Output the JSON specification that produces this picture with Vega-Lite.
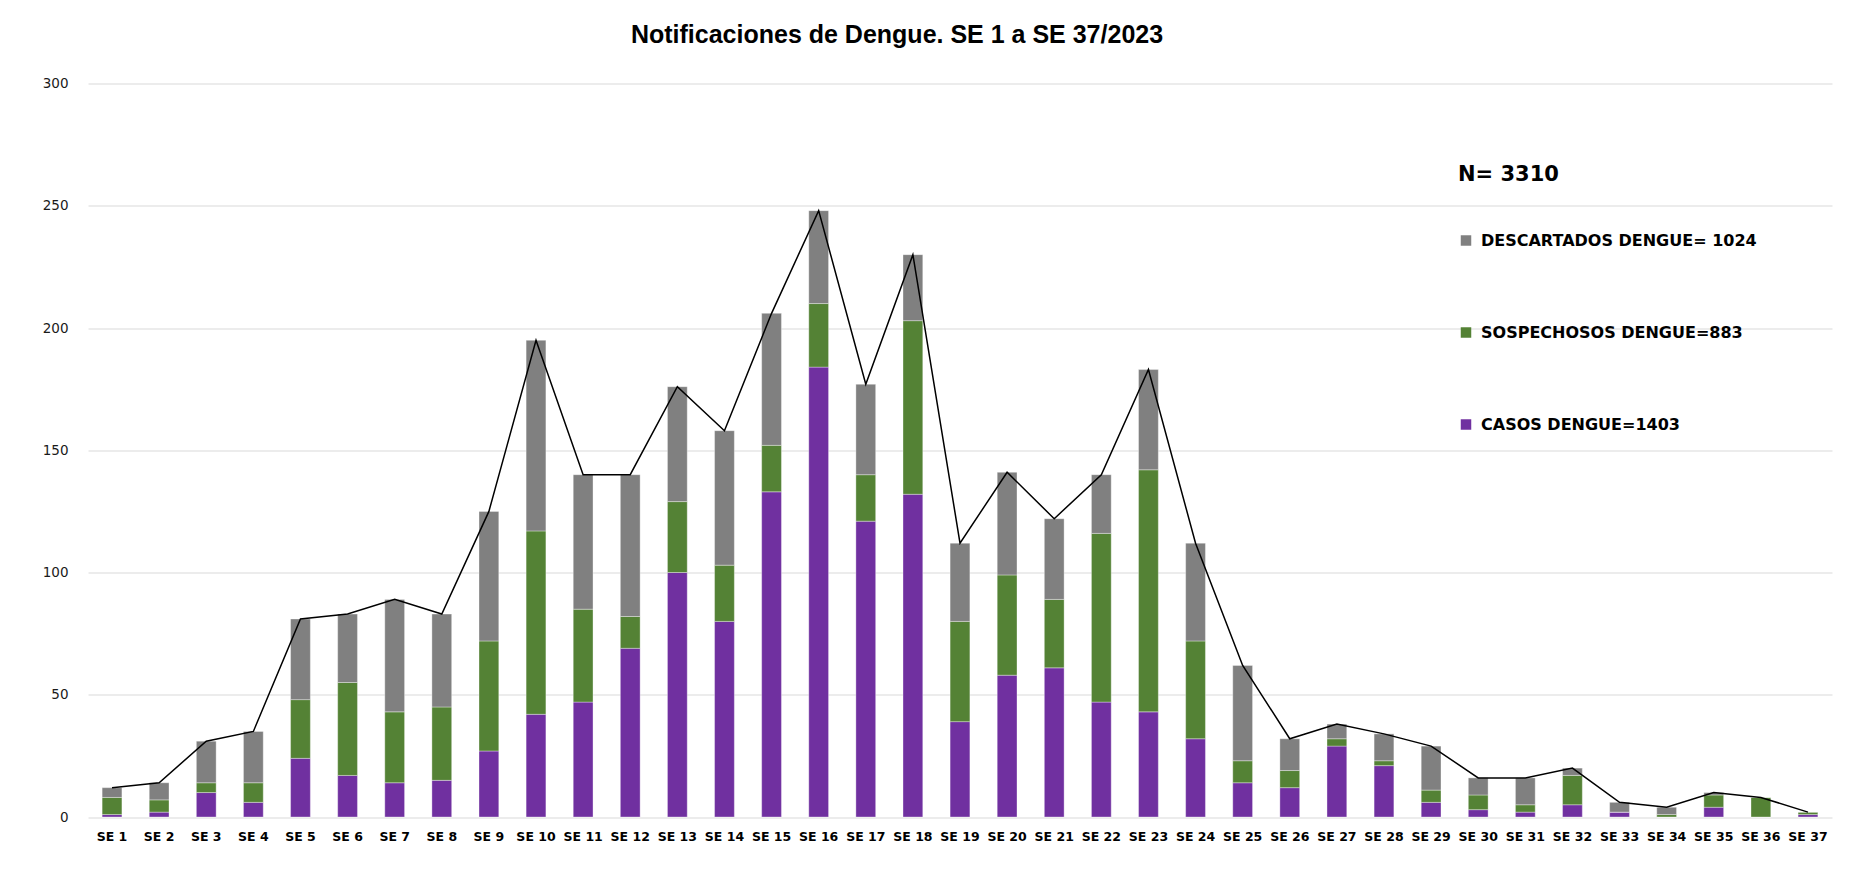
{
  "$schema": "https://vega.github.io/schema/vega-lite/v6.json",
  "width": 1744,
  "height": 733.5,
  "autosize": {"type": "none"},
  "padding": {"left": 88, "top": 83.5, "right": 36, "bottom": 79},
  "background": "white",
  "config": {"view": {"stroke": null}},
  "title": {
    "text": "Notificaciones de Dengue. SE 1 a SE 37/2023",
    "font": "Liberation Sans",
    "fontSize": 25,
    "fontWeight": "bold",
    "color": "black",
    "anchor": "middle",
    "frame": "group",
    "dx": -63,
    "offset": 29
  },
  "data": {
    "values": [
      {"se": "SE 1", "sem": 1, "casos": 1, "sosp": 7, "desc": 4},
      {"se": "SE 2", "sem": 2, "casos": 2, "sosp": 5, "desc": 7},
      {"se": "SE 3", "sem": 3, "casos": 10, "sosp": 4, "desc": 17},
      {"se": "SE 4", "sem": 4, "casos": 6, "sosp": 8, "desc": 21},
      {"se": "SE 5", "sem": 5, "casos": 24, "sosp": 24, "desc": 33},
      {"se": "SE 6", "sem": 6, "casos": 17, "sosp": 38, "desc": 28},
      {"se": "SE 7", "sem": 7, "casos": 14, "sosp": 29, "desc": 46},
      {"se": "SE 8", "sem": 8, "casos": 15, "sosp": 30, "desc": 38},
      {"se": "SE 9", "sem": 9, "casos": 27, "sosp": 45, "desc": 53},
      {"se": "SE 10", "sem": 10, "casos": 42, "sosp": 75, "desc": 78},
      {"se": "SE 11", "sem": 11, "casos": 47, "sosp": 38, "desc": 55},
      {"se": "SE 12", "sem": 12, "casos": 69, "sosp": 13, "desc": 58},
      {"se": "SE 13", "sem": 13, "casos": 100, "sosp": 29, "desc": 47},
      {"se": "SE 14", "sem": 14, "casos": 80, "sosp": 23, "desc": 55},
      {"se": "SE 15", "sem": 15, "casos": 133, "sosp": 19, "desc": 54},
      {"se": "SE 16", "sem": 16, "casos": 184, "sosp": 26, "desc": 38},
      {"se": "SE 17", "sem": 17, "casos": 121, "sosp": 19, "desc": 37},
      {"se": "SE 18", "sem": 18, "casos": 132, "sosp": 71, "desc": 27},
      {"se": "SE 19", "sem": 19, "casos": 39, "sosp": 41, "desc": 32},
      {"se": "SE 20", "sem": 20, "casos": 58, "sosp": 41, "desc": 42},
      {"se": "SE 21", "sem": 21, "casos": 61, "sosp": 28, "desc": 33},
      {"se": "SE 22", "sem": 22, "casos": 47, "sosp": 69, "desc": 24},
      {"se": "SE 23", "sem": 23, "casos": 43, "sosp": 99, "desc": 41},
      {"se": "SE 24", "sem": 24, "casos": 32, "sosp": 40, "desc": 40},
      {"se": "SE 25", "sem": 25, "casos": 14, "sosp": 9, "desc": 39},
      {"se": "SE 26", "sem": 26, "casos": 12, "sosp": 7, "desc": 13},
      {"se": "SE 27", "sem": 27, "casos": 29, "sosp": 3, "desc": 6},
      {"se": "SE 28", "sem": 28, "casos": 21, "sosp": 2, "desc": 11},
      {"se": "SE 29", "sem": 29, "casos": 6, "sosp": 5, "desc": 18},
      {"se": "SE 30", "sem": 30, "casos": 3, "sosp": 6, "desc": 7},
      {"se": "SE 31", "sem": 31, "casos": 2, "sosp": 3, "desc": 11},
      {"se": "SE 32", "sem": 32, "casos": 5, "sosp": 12, "desc": 3},
      {"se": "SE 33", "sem": 33, "casos": 2, "sosp": 0, "desc": 4},
      {"se": "SE 34", "sem": 34, "casos": 0, "sosp": 1, "desc": 3},
      {"se": "SE 35", "sem": 35, "casos": 4, "sosp": 5, "desc": 1},
      {"se": "SE 36", "sem": 36, "casos": 0, "sosp": 8, "desc": 0},
      {"se": "SE 37", "sem": 37, "casos": 1, "sosp": 1, "desc": 0}
    ]
  },
  "transform": [{"fold": ["casos", "sosp", "desc"], "as": ["serie", "n"]}],
  "encoding": {
    "x": {
      "field": "se",
      "type": "nominal",
      "sort": {"field": "sem", "op": "min"},
      "scale": {"paddingInner": 0.58, "paddingOuter": 0.3},
      "axis": {
        "title": null,
        "labelAngle": 0,
        "domain": false,
        "ticks": false,
        "labelPadding": 13,
        "labelFont": "DejaVu Sans",
        "labelFontSize": 12.5,
        "labelFontWeight": "bold",
        "labelColor": "black"
      }
    }
  },
  "layer": [
    {
      "transform": [{"calculate": "indexof(['casos','sosp','desc'], datum.serie)", "as": "orden"}],
      "mark": {"type": "bar", "stroke": "white", "strokeOpacity": 0.35, "strokeWidth": 1},
      "encoding": {
        "y": {
          "field": "n",
          "type": "quantitative",
          "stack": "zero",
          "scale": {"domain": [0, 300], "nice": false},
          "axis": {
            "title": null,
            "values": [0, 50, 100, 150, 200, 250, 300],
            "domain": false,
            "ticks": false,
            "labelPadding": 20,
            "labelFont": "DejaVu Sans",
            "labelFontSize": 13.5,
            "labelColor": "#1a1a1a",
            "gridColor": "#d9d9d9",
            "gridWidth": 1
          }
        },
        "color": {
          "field": "serie",
          "type": "nominal",
          "scale": {"domain": ["desc", "sosp", "casos"], "range": ["#808080", "#548235", "#7030a0"]},
          "legend": {
            "orient": "none",
            "legendX": 1370,
            "legendY": 80,
            "title": "\u00a0\u00a0\u00a0\u00a0\u00a0\u00a0N= 3310",
            "titleFont": "DejaVu Sans",
            "titleFontSize": 21,
            "titleFontWeight": "bold",
            "titleColor": "black",
            "titleAnchor": "start",
            "titlePadding": 48,
            "labelFont": "DejaVu Sans",
            "labelFontSize": 16,
            "labelFontWeight": "bold",
            "labelColor": "black",
            "labelLimit": 0,
            "labelOffset": 7,
            "symbolType": "square",
            "symbolSize": 110,
            "symbolStrokeWidth": 0,
            "rowPadding": 76,
            "labelExpr": "datum.value == 'desc' ? 'DESCARTADOS DENGUE= 1024' : datum.value == 'sosp' ? 'SOSPECHOSOS DENGUE=883' : 'CASOS DENGUE=1403'"
          }
        },
        "order": {"field": "orden", "type": "quantitative", "sort": "ascending"}
      }
    },
    {
      "mark": {"type": "line", "color": "black", "strokeWidth": 1.5},
      "encoding": {
        "y": {
          "aggregate": "sum",
          "field": "n",
          "type": "quantitative",
          "scale": {"domain": [0, 300], "nice": false},
          "axis": {
            "title": null,
            "values": [0, 50, 100, 150, 200, 250, 300],
            "domain": false,
            "ticks": false,
            "labelPadding": 20,
            "labelFont": "DejaVu Sans",
            "labelFontSize": 13.5,
            "labelColor": "#1a1a1a",
            "gridColor": "#d9d9d9",
            "gridWidth": 1
          }
        },
        "order": {"field": "sem", "type": "quantitative"}
      }
    }
  ]
}
